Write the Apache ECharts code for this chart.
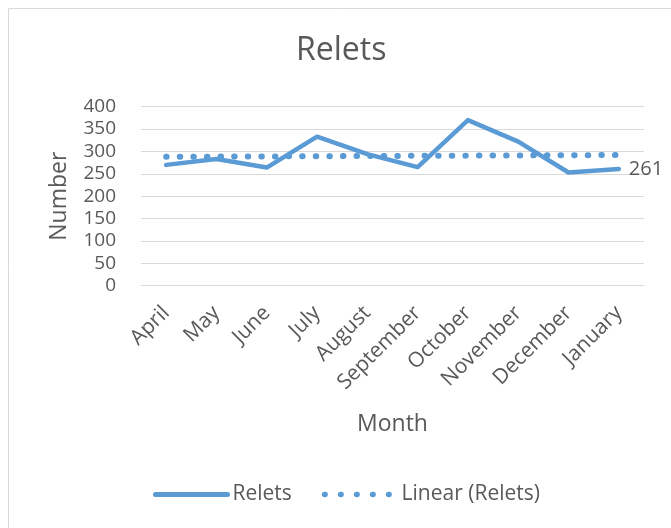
<!DOCTYPE html>
<html>
<head>
<meta charset="utf-8">
<script src="https://cdn.jsdelivr.net/npm/echarts@6/dist/echarts.min.js"></script>
<style>
html,body{margin:0;padding:0;background:#fff;}
#chart{width:671px;height:528px;}
</style>
</head>
<body>
<div id="chart"></div>
<script>
var months = ['April','May','June','July','August','September','October','November','December','January'];
var relets = [270, 283, 264, 333, 294, 265, 370, 322, 253, 261];
var trendStart = 288;
var trendEnd = 292;
var yTicks = {min: 0, max: 400, interval: 50};

var font = '"Open Sans", sans-serif';
var textColor = '#595959';
var blue = '#5B9BD5';

var trendData = months.map(function (m, i) {
  if (i === 0) return trendStart;
  if (i === months.length - 1) return trendEnd;
  return null;
});

var chart = echarts.init(document.getElementById('chart'), null, {renderer: 'canvas'});
chart.setOption({
  animation: false,
  backgroundColor: '#fff',
  textStyle: {fontFamily: font, color: textColor},
  graphic: [{
    type: 'rect',
    shape: {x: 8.5, y: 8.5, width: 700, height: 560},
    style: {fill: 'none', stroke: '#D9D9D9', lineWidth: 1},
    silent: true
  }],
  title: {
    text: 'Relets',
    left: 296,
    top: 35,
    padding: 0,
    textStyle: {fontSize: 32, fontWeight: 'normal', color: textColor, fontFamily: font}
  },
  legend: {
    top: 479,
    left: 148,
    itemWidth: 72,
    itemHeight: 14,
    itemGap: 30,
    itemStyle: {opacity: 0},
    textStyle: {fontSize: 21, color: textColor, fontFamily: font},
    data: [
      {name: 'Relets', lineStyle: {width: 5, cap: 'round'}},
      {name: 'Linear (Relets)', lineStyle: {width: 5.5, type: [0.5, 15.5], cap: 'round'}}
    ]
  },
  grid: {
    left: 141, right: 27, top: 106.7, bottom: 242.3,
    containLabel: false,
    outerBoundsMode: 'none'
  },
  xAxis: {
    type: 'category',
    data: months,
    boundaryGap: true,
    name: 'Month',
    nameLocation: 'middle',
    nameGap: 127,
    nameTextStyle: {fontSize: 23, color: textColor, fontFamily: font},
    axisLine: {show: true, lineStyle: {color: '#D9D9D9', width: 1}},
    axisTick: {show: false},
    axisLabel: {rotate: 45, margin: 24, fontSize: 21, color: textColor, fontFamily: font, interval: 0}
  },
  yAxis: {
    type: 'value',
    min: yTicks.min,
    max: yTicks.max,
    interval: yTicks.interval,
    name: 'Number',
    nameLocation: 'middle',
    nameGap: 70,
    nameRotate: 90,
    nameTextStyle: {fontSize: 23, color: textColor, fontFamily: font},
    axisLine: {show: false},
    axisTick: {show: false},
    axisLabel: {margin: 25, fontSize: 19, color: textColor, fontFamily: font},
    splitLine: {lineStyle: {color: '#D9D9D9', width: 1}}
  },
  series: [
    {
      name: 'Relets',
      type: 'line',
      data: relets,
      symbol: 'none',
      color: blue,
      lineStyle: {color: blue, width: 4.5, cap: 'round', join: 'round'},
      endLabel: {show: true, formatter: '{c}', distance: 10, color: textColor, fontSize: 20, fontFamily: font},
      z: 3
    },
    {
      name: 'Linear (Relets)',
      type: 'line',
      data: trendData,
      connectNulls: true,
      symbol: 'none',
      color: blue,
      lineStyle: {color: blue, width: 6, type: [0.5, 13.1], cap: 'round'},
      z: 2
    }
  ]
});
</script>
</body>
</html>
